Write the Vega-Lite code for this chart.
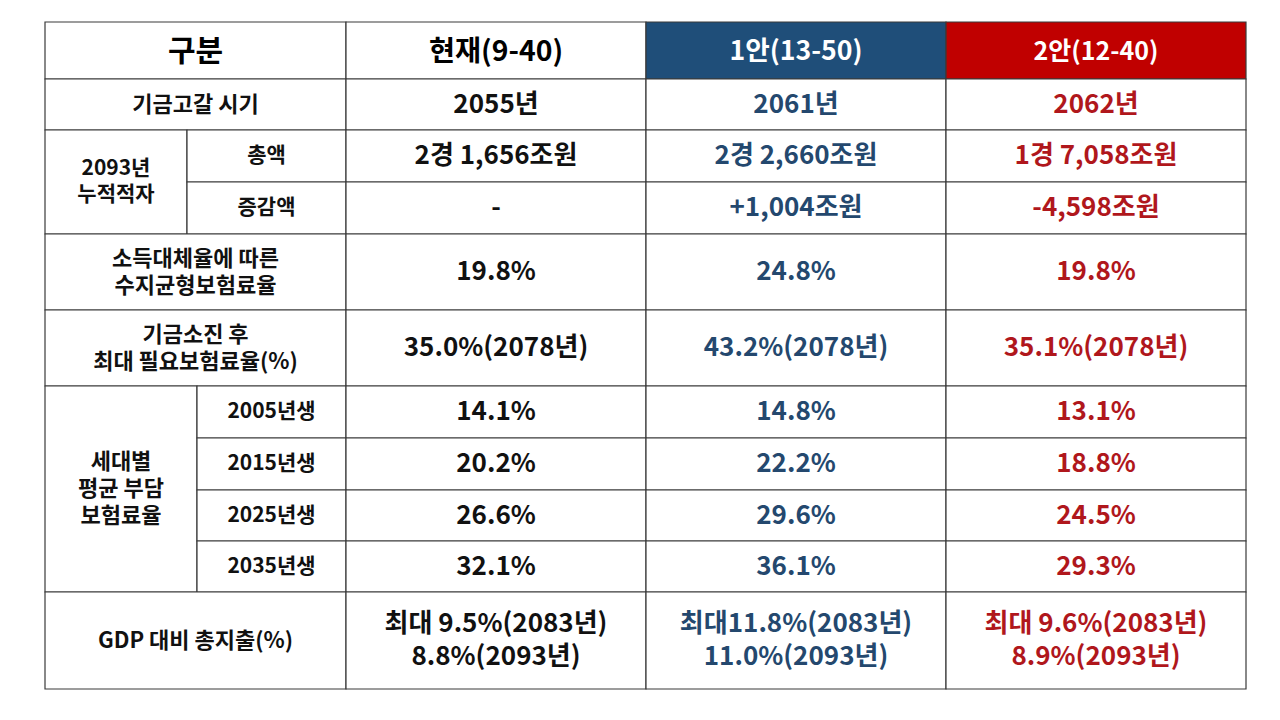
{
  "$schema": "https://vega.github.io/schema/vega-lite/v6.json",
  "width": 1280,
  "height": 720,
  "padding": 0,
  "autosize": {"type": "none"},
  "background": "white",
  "config": {"view": {"stroke": null}},
  "data": {
    "values": [
      {"x0": 45, "x1": 346, "y0": 22, "y1": 79, "role": "head", "plan": "구분", "text": "구분"},
      {"x0": 346, "x1": 646, "y0": 22, "y1": 79, "role": "head", "plan": "현재", "text": "현재(9-40)"},
      {"x0": 646, "x1": 946, "y0": 22, "y1": 79, "role": "head", "plan": "1안", "text": "1안(13-50)"},
      {"x0": 946, "x1": 1246, "y0": 22, "y1": 79, "role": "head", "plan": "2안", "text": "2안(12-40)"},

      {"x0": 45, "x1": 346, "y0": 79, "y1": 130, "role": "label", "plan": "구분", "text": "기금고갈 시기"},
      {"x0": 346, "x1": 646, "y0": 79, "y1": 130, "role": "value", "plan": "현재", "text": "2055년"},
      {"x0": 646, "x1": 946, "y0": 79, "y1": 130, "role": "value", "plan": "1안", "text": "2061년"},
      {"x0": 946, "x1": 1246, "y0": 79, "y1": 130, "role": "value", "plan": "2안", "text": "2062년"},

      {"x0": 45, "x1": 187, "y0": 130, "y1": 234, "role": "sub", "plan": "구분", "text": "2093년\n누적적자"},
      {"x0": 187, "x1": 346, "y0": 130, "y1": 182, "role": "sub", "plan": "구분", "text": "총액"},
      {"x0": 346, "x1": 646, "y0": 130, "y1": 182, "role": "value", "plan": "현재", "text": "2경 1,656조원"},
      {"x0": 646, "x1": 946, "y0": 130, "y1": 182, "role": "value", "plan": "1안", "text": "2경 2,660조원"},
      {"x0": 946, "x1": 1246, "y0": 130, "y1": 182, "role": "value", "plan": "2안", "text": "1경 7,058조원"},
      {"x0": 187, "x1": 346, "y0": 182, "y1": 234, "role": "sub", "plan": "구분", "text": "증감액"},
      {"x0": 346, "x1": 646, "y0": 182, "y1": 234, "role": "value", "plan": "현재", "text": "-"},
      {"x0": 646, "x1": 946, "y0": 182, "y1": 234, "role": "value", "plan": "1안", "text": "+1,004조원"},
      {"x0": 946, "x1": 1246, "y0": 182, "y1": 234, "role": "value", "plan": "2안", "text": "-4,598조원"},

      {"x0": 45, "x1": 346, "y0": 234, "y1": 310, "role": "label", "plan": "구분", "text": "소득대체율에 따른\n수지균형보험료율"},
      {"x0": 346, "x1": 646, "y0": 234, "y1": 310, "role": "value", "plan": "현재", "text": "19.8%"},
      {"x0": 646, "x1": 946, "y0": 234, "y1": 310, "role": "value", "plan": "1안", "text": "24.8%"},
      {"x0": 946, "x1": 1246, "y0": 234, "y1": 310, "role": "value", "plan": "2안", "text": "19.8%"},

      {"x0": 45, "x1": 346, "y0": 310, "y1": 386, "role": "label", "plan": "구분", "text": "기금소진 후\n최대 필요보험료율(%)"},
      {"x0": 346, "x1": 646, "y0": 310, "y1": 386, "role": "value", "plan": "현재", "text": "35.0%(2078년)"},
      {"x0": 646, "x1": 946, "y0": 310, "y1": 386, "role": "value", "plan": "1안", "text": "43.2%(2078년)"},
      {"x0": 946, "x1": 1246, "y0": 310, "y1": 386, "role": "value", "plan": "2안", "text": "35.1%(2078년)"},

      {"x0": 45, "x1": 197, "y0": 386, "y1": 592, "role": "label", "plan": "구분", "text": "세대별\n평균 부담\n보험료율"},
      {"x0": 197, "x1": 346, "y0": 386, "y1": 438, "role": "sub", "plan": "구분", "text": "2005년생"},
      {"x0": 346, "x1": 646, "y0": 386, "y1": 438, "role": "value", "plan": "현재", "text": "14.1%"},
      {"x0": 646, "x1": 946, "y0": 386, "y1": 438, "role": "value", "plan": "1안", "text": "14.8%"},
      {"x0": 946, "x1": 1246, "y0": 386, "y1": 438, "role": "value", "plan": "2안", "text": "13.1%"},
      {"x0": 197, "x1": 346, "y0": 438, "y1": 490, "role": "sub", "plan": "구분", "text": "2015년생"},
      {"x0": 346, "x1": 646, "y0": 438, "y1": 490, "role": "value", "plan": "현재", "text": "20.2%"},
      {"x0": 646, "x1": 946, "y0": 438, "y1": 490, "role": "value", "plan": "1안", "text": "22.2%"},
      {"x0": 946, "x1": 1246, "y0": 438, "y1": 490, "role": "value", "plan": "2안", "text": "18.8%"},
      {"x0": 197, "x1": 346, "y0": 490, "y1": 541, "role": "sub", "plan": "구분", "text": "2025년생"},
      {"x0": 346, "x1": 646, "y0": 490, "y1": 541, "role": "value", "plan": "현재", "text": "26.6%"},
      {"x0": 646, "x1": 946, "y0": 490, "y1": 541, "role": "value", "plan": "1안", "text": "29.6%"},
      {"x0": 946, "x1": 1246, "y0": 490, "y1": 541, "role": "value", "plan": "2안", "text": "24.5%"},
      {"x0": 197, "x1": 346, "y0": 541, "y1": 592, "role": "sub", "plan": "구분", "text": "2035년생"},
      {"x0": 346, "x1": 646, "y0": 541, "y1": 592, "role": "value", "plan": "현재", "text": "32.1%"},
      {"x0": 646, "x1": 946, "y0": 541, "y1": 592, "role": "value", "plan": "1안", "text": "36.1%"},
      {"x0": 946, "x1": 1246, "y0": 541, "y1": 592, "role": "value", "plan": "2안", "text": "29.3%"},

      {"x0": 45, "x1": 346, "y0": 592, "y1": 689, "role": "label", "plan": "구분", "text": "GDP 대비 총지출(%)"},
      {"x0": 346, "x1": 646, "y0": 592, "y1": 689, "role": "value", "plan": "현재", "text": "최대 9.5%(2083년)\n8.8%(2093년)"},
      {"x0": 646, "x1": 946, "y0": 592, "y1": 689, "role": "value", "plan": "1안", "text": "최대11.8%(2083년)\n11.0%(2093년)"},
      {"x0": 946, "x1": 1246, "y0": 592, "y1": 689, "role": "value", "plan": "2안", "text": "최대 9.6%(2083년)\n8.9%(2093년)"}
    ]
  },
  "transform": [
    {"calculate": "(datum.x0 + datum.x1) / 2", "as": "cx"},
    {"calculate": "(datum.y0 + datum.y1) / 2", "as": "cy"},
    {"calculate": "length(split(datum.text, '\\n'))", "as": "nl"},
    {"calculate": "datum.role === 'head' ? datum.plan : '구분'", "as": "fillKey"},
    {"calculate": "datum.role === 'head' ? 'h_' + datum.plan : 'v_' + datum.plan", "as": "colKey"}
  ],
  "encoding": {
    "x": {"type": "quantitative", "scale": {"domain": [0, 1280], "nice": false, "zero": false}, "axis": null},
    "y": {"type": "quantitative", "scale": {"domain": [0, 720], "nice": false, "zero": false, "reverse": true}, "axis": null}
  },
  "layer": [
    {
      "mark": {"type": "rect", "stroke": "#3a3a3a", "strokeWidth": 1.2},
      "encoding": {
        "x": {"field": "x0", "type": "quantitative"},
        "x2": {"field": "x1"},
        "y": {"field": "y0", "type": "quantitative"},
        "y2": {"field": "y1"},
        "fill": {
          "field": "fillKey", "type": "nominal", "legend": null,
          "scale": {"domain": ["구분", "현재", "1안", "2안"], "range": ["#ffffff", "#ffffff", "#1F4E79", "#C00000"]}
        }
      }
    },
    {
      "transform": [{"filter": "datum.role === 'head'"}],
      "mark": {"type": "text", "font": "Noto Sans CJK KR", "fontWeight": "bold", "align": "center", "baseline": "middle", "dy": 1},
      "encoding": {
        "x": {"field": "cx", "type": "quantitative"},
        "y": {"field": "cy", "type": "quantitative"},
        "text": {"field": "text"},
        "size": {"field": "plan", "type": "nominal", "legend": null, "scale": {"domain": ["구분", "현재", "1안", "2안"], "range": [30, 25, 25, 25]}},
        "color": {
          "field": "colKey", "type": "nominal", "legend": null,
          "scale": {"domain": ["h_구분", "h_현재", "h_1안", "h_2안", "v_현재", "v_1안", "v_2안"], "range": ["#000000", "#000000", "#ffffff", "#ffffff", "#111111", "#24486E", "#B0171C"]}
        }
      }
    },
    {
      "transform": [
        {"filter": "datum.role === 'label'"},
        {"calculate": "datum.cy - (datum.nl - 1) * 27 / 2", "as": "ty"}
      ],
      "mark": {"type": "text", "font": "Noto Sans CJK KR", "fontWeight": "bold", "fontSize": 22, "align": "center", "baseline": "middle", "lineBreak": "\n", "lineHeight": 27, "color": "#111111"},
      "encoding": {
        "x": {"field": "cx", "type": "quantitative"},
        "y": {"field": "ty", "type": "quantitative"},
        "text": {"field": "text"}
      }
    },
    {
      "transform": [
        {"filter": "datum.role === 'sub'"},
        {"calculate": "datum.cy - (datum.nl - 1) * 26 / 2", "as": "ty"}
      ],
      "mark": {"type": "text", "font": "Noto Sans CJK KR", "fontWeight": "bold", "fontSize": 21, "align": "center", "baseline": "middle", "lineBreak": "\n", "lineHeight": 26, "color": "#111111"},
      "encoding": {
        "x": {"field": "cx", "type": "quantitative"},
        "y": {"field": "ty", "type": "quantitative"},
        "text": {"field": "text"}
      }
    },
    {
      "transform": [
        {"filter": "datum.role === 'value'"},
        {"calculate": "datum.cy - (datum.nl - 1) * 33 / 2", "as": "ty"}
      ],
      "mark": {"type": "text", "font": "Noto Sans CJK KR", "fontWeight": "bold", "fontSize": 26, "align": "center", "baseline": "middle", "lineBreak": "\n", "lineHeight": 33},
      "encoding": {
        "x": {"field": "cx", "type": "quantitative"},
        "y": {"field": "ty", "type": "quantitative"},
        "text": {"field": "text"},
        "color": {"field": "colKey", "type": "nominal", "legend": null}
      }
    }
  ]
}
